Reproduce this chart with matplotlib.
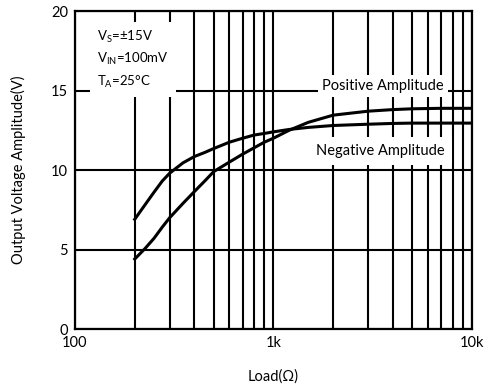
import numpy as np
import matplotlib.pyplot as plt
from matplotlib.ticker import FixedLocator, NullFormatter

plt.rcParams['font.family'] = ['Lato', 'DejaVu Sans']

# load resistance (ohm) and output amplitude (V)
carga = [200, 225, 250, 275, 300, 350, 400, 450, 500, 600, 700, 800, 900,
         1000, 1200, 1500, 2000, 3000, 4000, 5000, 7000, 10000]
ampNegativa = [6.9, 7.8, 8.6, 9.3, 9.8, 10.45, 10.85, 11.1, 11.35, 11.75,
               12.0, 12.2, 12.3, 12.4, 12.55, 12.68, 12.8, 12.88, 12.93,
               12.95, 12.95, 12.95]
ampPositiva = [4.4, 5.05, 5.7, 6.4, 7.0, 7.9, 8.65, 9.3, 9.9, 10.5, 11.0,
               11.4, 11.75, 12.0, 12.5, 13.0, 13.45, 13.7, 13.8, 13.85,
               13.88, 13.88]

xTicks = [100, 1000, 10000]
xTickLabels = ["100", "1k", "10k"]
yTicks = [0, 5, 10, 15, 20]

fig = plt.figure(figsize=(4.85, 3.89), dpi=100)
ax = fig.add_axes([0.1546, 0.1542, 0.973 - 0.1546, 0.9717 - 0.1542])

ax.set_xscale("log")
ax.set_xlim(100, 10000)
ax.set_ylim(0, 20)
ax.xaxis.set_major_locator(FixedLocator(xTicks))
ax.xaxis.set_minor_locator(FixedLocator([m * d for d in (100, 1000) for m in range(2, 10)]))
ax.xaxis.set_minor_formatter(NullFormatter())
ax.set_xticks(xTicks)
ax.set_xticklabels(xTickLabels)
ax.set_yticks(yTicks)

ax.grid(True, which="both", axis="x", color="black", linewidth=1.5)
ax.grid(True, which="major", axis="y", color="black", linewidth=1.5)
ax.tick_params(which="both", length=0, labelsize=10.5, pad=5)
for s in ax.spines.values():
    s.set_linewidth(1.6)
ax.set_axisbelow(True)

ax.plot(carga, ampNegativa, color="black", linewidth=2.2)
ax.plot(carga, ampPositiva, color="black", linewidth=2.2)

ax.text(0.055, 0.945,
        "$\\mathregular{V_S}$=±15V\n$\\mathregular{V_{IN}}$=100mV\n$\\mathregular{T_A}$=25°C",
        transform=ax.transAxes, fontsize=9.5, va="top", ha="left", linespacing=1.55,
        bbox=dict(facecolor="white", edgecolor="none", pad=5), zorder=5)
ax.text(0.775, 0.765, "Positive Amplitude", transform=ax.transAxes, fontsize=10.5,
        ha="center", va="center",
        bbox=dict(facecolor="white", edgecolor="none", pad=3), zorder=5)
ax.text(0.77, 0.56, "Negative Amplitude", transform=ax.transAxes, fontsize=10.5,
        ha="center", va="center",
        bbox=dict(facecolor="white", edgecolor="none", pad=5), zorder=5)

ax.set_xlabel("Load(Ω)", fontsize=10.5, labelpad=14)
ax.set_ylabel("Output Voltage Amplitude(V)", fontsize=10.5, labelpad=18)

fig.savefig("out.png", dpi=100)
